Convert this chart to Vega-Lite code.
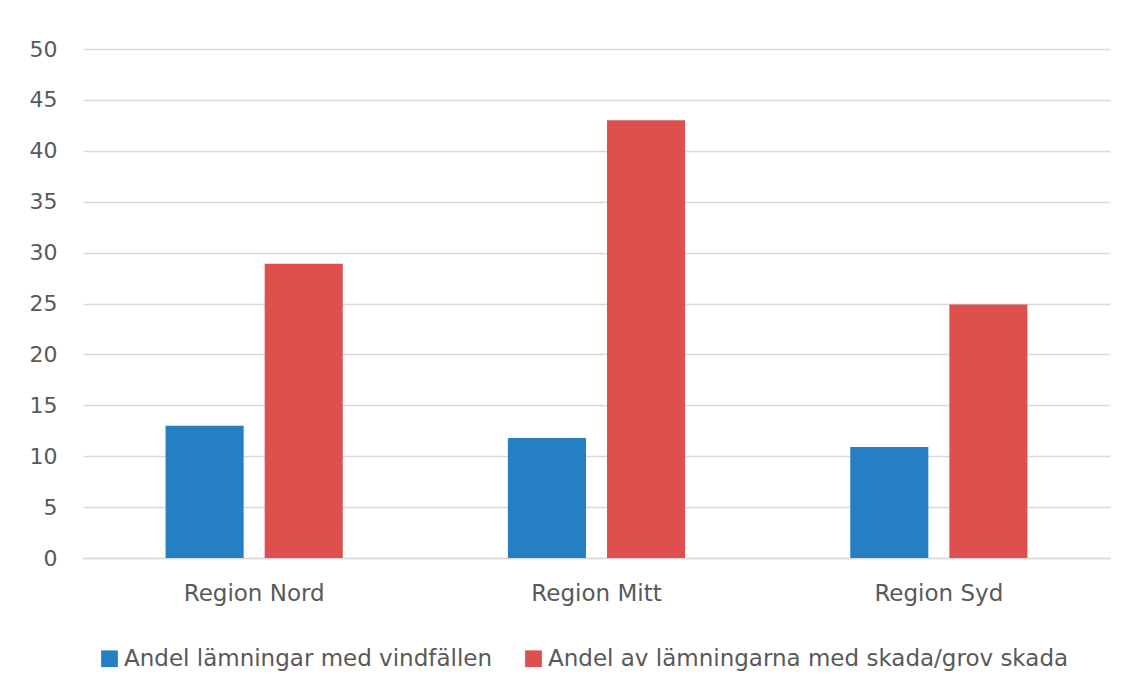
{
  "$schema": "https://vega.github.io/schema/vega-lite/v6.json",
  "autosize": "none",
  "padding": {"left": 83, "top": 49, "right": 21, "bottom": 140},
  "width": 1027,
  "height": 509,
  "background": "white",
  "data": {
    "values": [
      {"region": "Region Nord", "serie": "Andel lämningar med vindfällen", "value": 13},
      {"region": "Region Nord", "serie": "Andel av lämningarna med skada/grov skada", "value": 28.9},
      {"region": "Region Mitt", "serie": "Andel lämningar med vindfällen", "value": 11.8},
      {"region": "Region Mitt", "serie": "Andel av lämningarna med skada/grov skada", "value": 43},
      {"region": "Region Syd", "serie": "Andel lämningar med vindfällen", "value": 10.9},
      {"region": "Region Syd", "serie": "Andel av lämningarna med skada/grov skada", "value": 24.9}
    ]
  },
  "mark": {"type": "bar"},
  "encoding": {
    "x": {
      "field": "region", "type": "nominal", "sort": ["Region Nord", "Region Mitt", "Region Syd"],
      "scale": {"paddingInner": 0, "paddingOuter": 0},
      "axis": {"title": null, "labelAngle": 0, "ticks": false, "domainColor": "#d9d9d9", "domainWidth": 1.5, "labelPadding": 24, "labelFont": "DejaVu Sans", "labelFontSize": 23, "labelColor": "#595959"}
    },
    "xOffset": {
      "field": "serie", "type": "nominal",
      "sort": ["Andel lämningar med vindfällen", "Andel av lämningarna med skada/grov skada"],
      "scale": {"paddingInner": 0.212, "paddingOuter": 0.833}
    },
    "y": {
      "field": "value", "type": "quantitative",
      "scale": {"domain": [0, 50], "nice": false},
      "axis": {"title": null, "values": [0,5,10,15,20,25,30,35,40,45,50], "domain": false, "ticks": false, "gridColor": "#d9d9d9", "gridWidth": 1.5, "labelPadding": 26, "labelFont": "DejaVu Sans", "labelFontSize": 22, "labelColor": "#595959"}
    },
    "color": {
      "field": "serie", "type": "nominal",
      "sort": ["Andel lämningar med vindfällen", "Andel av lämningarna med skada/grov skada"],
      "scale": {"range": ["#2580c3", "#de504e"]},
      "legend": {"title": null, "orient": "none", "direction": "horizontal", "legendX": 15, "legendY": 598, "symbolType": "square", "symbolSize": 280, "symbolStrokeWidth": 0, "labelFont": "DejaVu Sans", "labelFontSize": 23, "labelColor": "#595959", "labelOffset": 3, "columnPadding": 30, "labelLimit": 700}
    }
  },
  "config": {"view": {"stroke": null}}
}
